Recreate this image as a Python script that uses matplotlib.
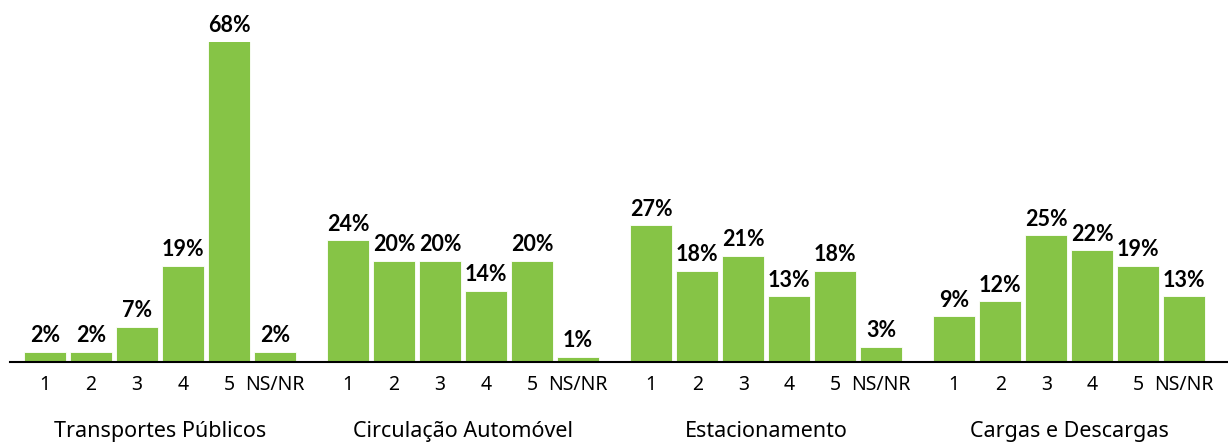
import numpy as np
import matplotlib.pyplot as plt
import matplotlib.transforms as mtransforms

plt.rcParams['font.family'] = ['Noto Sans', 'DejaVu Sans']

# dados
groups = ['Transportes Públicos', 'Circulação Automóvel', 'Estacionamento', 'Cargas e Descargas']
categories = ['1', '2', '3', '4', '5', 'NS/NR']
transportes = [2, 2, 7, 19, 68, 2]
circulacao = [24, 20, 20, 14, 20, 1]
estacionamento = [27, 18, 21, 13, 18, 3]
cargas = [9, 12, 25, 22, 19, 13]
series = [transportes, circulacao, estacionamento, cargas]

bar_color = '#86C446'
group_step = 6.59
y_top = 63.1

fig = plt.figure(figsize=(12.28, 4.44), dpi=100)
ax = fig.add_axes([10 / 1228, 1 - 362 / 444, 1 - 10 / 1228, (362 - 42) / 444])

positions = []
labels = []
for g, values in enumerate(series):
    x = g * group_step + np.arange(len(categories))
    ax.bar(x, values, width=0.913, color=bar_color, edgecolor='white', linewidth=0.6)
    for xi, v in zip(x, values):
        ax.annotate(f'{v}%', (xi, min(v, y_top)), xytext=(0, 4), textcoords='offset points',
                    ha='center', va='bottom', fontsize=15.5, fontweight='bold',
                    family=['Lato', 'DejaVu Sans'], annotation_clip=False)
    positions.extend(x)
    labels.extend(categories)

    # nome do grupo por baixo
    trans = mtransforms.blended_transform_factory(ax.transData, fig.transFigure)
    ax.text(x.mean(), 1 - 431 / 444, groups[g], transform=trans,
            ha='center', va='center', fontsize=15.5)

ax.set_xticks(positions)
ax.set_xticklabels(labels, fontsize=14)
ax.tick_params(axis='x', length=0, pad=9)
ax.set_yticks([])
ax.set_xlim(-0.76, 25.72)
ax.set_ylim(0, y_top)

for side in ['top', 'right', 'left']:
    ax.spines[side].set_visible(False)
ax.spines['bottom'].set_linewidth(1.5)
ax.spines['bottom'].set_color('black')

plt.savefig('out.png', dpi=100)
